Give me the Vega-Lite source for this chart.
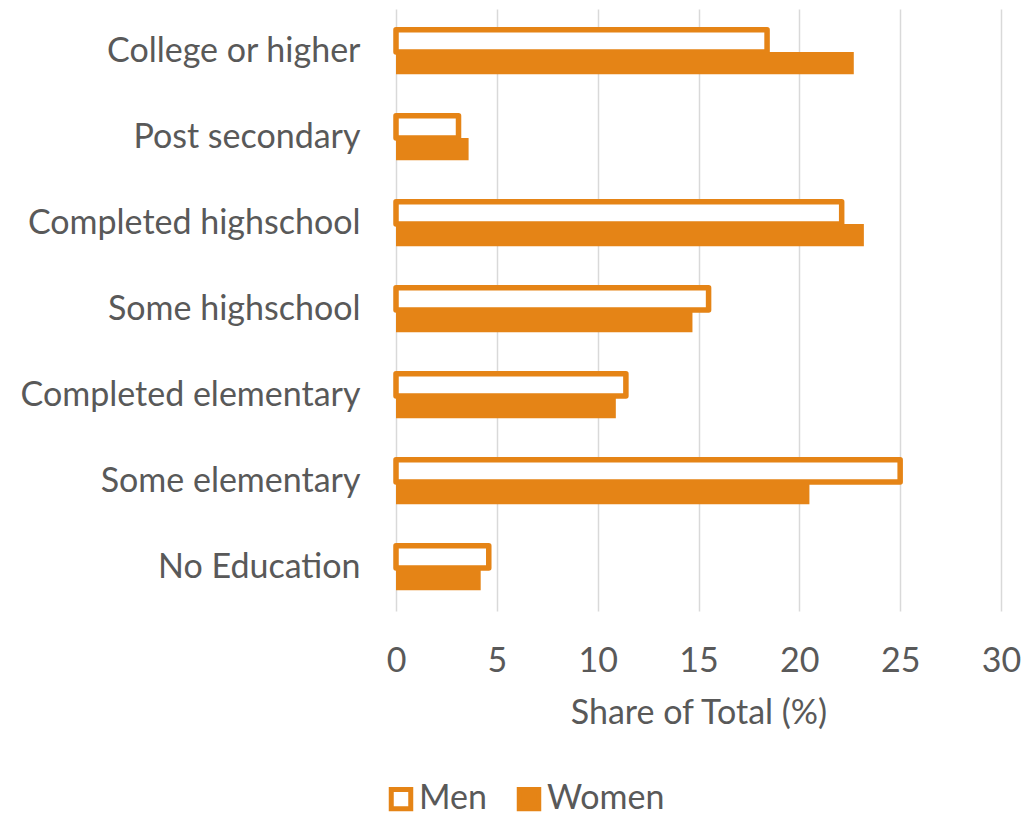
{
  "$schema": "https://vega.github.io/schema/vega-lite/v6.json",
  "width": 605,
  "height": 602,
  "autosize": {"type": "none"},
  "padding": {"left": 396, "top": 9, "right": 23, "bottom": 202},
  "background": "white",
  "config": {"view": {"stroke": null}, "font": "Lato"},
  "data": {
    "values": [
      {"level": "College or higher", "sex": "Men", "share": 18.4},
      {"level": "College or higher", "sex": "Women", "share": 22.7},
      {"level": "Post secondary", "sex": "Men", "share": 3.1},
      {"level": "Post secondary", "sex": "Women", "share": 3.6},
      {"level": "Completed highschool", "sex": "Men", "share": 22.1},
      {"level": "Completed highschool", "sex": "Women", "share": 23.2},
      {"level": "Some highschool", "sex": "Men", "share": 15.5},
      {"level": "Some highschool", "sex": "Women", "share": 14.7},
      {"level": "Completed elementary", "sex": "Men", "share": 11.4},
      {"level": "Completed elementary", "sex": "Women", "share": 10.9},
      {"level": "Some elementary", "sex": "Men", "share": 25.0},
      {"level": "Some elementary", "sex": "Women", "share": 20.5},
      {"level": "No Education", "sex": "Men", "share": 4.6},
      {"level": "No Education", "sex": "Women", "share": 4.2}
    ]
  },
  "mark": {"type": "bar", "strokeJoin": "round"},
  "encoding": {
    "y": {
      "field": "level",
      "type": "nominal",
      "sort": ["College or higher", "Post secondary", "Completed highschool", "Some highschool", "Completed elementary", "Some elementary", "No Education"],
      "scale": {"paddingInner": 0.48, "paddingOuter": 0.24},
      "axis": {"title": null, "domain": false, "ticks": false, "labelFontSize": 34, "labelColor": "#595959", "labelPadding": 36, "labelLimit": 0}
    },
    "yOffset": {"field": "sex", "type": "nominal", "sort": ["Men", "Women"]},
    "x": {
      "field": "share",
      "type": "quantitative",
      "scale": {"domain": [0, 30]},
      "axis": {
        "values": [0, 5, 10, 15, 20, 25, 30],
        "title": "Share of Total (%)",
        "grid": true,
        "gridColor": "#D9D9D9",
        "gridWidth": 1.5,
        "domain": false,
        "ticks": false,
        "labelFontSize": 34,
        "labelColor": "#595959",
        "labelPadding": 33,
        "labelFlush": false,
        "titleFontSize": 34,
        "titleColor": "#595959",
        "titleFontWeight": "normal",
        "titlePadding": 18
      }
    },
    "fill": {
      "field": "sex",
      "type": "nominal",
      "scale": {"domain": ["Men", "Women"], "range": ["#FFFFFF", "#E58416"]},
      "legend": {
        "title": null,
        "orient": "none",
        "direction": "horizontal",
        "legendX": -12,
        "legendY": 773,
        "symbolType": "square",
        "symbolSize": 380,
        "symbolStrokeWidth": 5,
        "labelFontSize": 34,
        "labelColor": "#595959",
        "labelOffset": 1,
        "labelLimit": 0,
        "columnPadding": 22
      }
    },
    "stroke": {
      "field": "sex",
      "type": "nominal",
      "scale": {"domain": ["Men", "Women"], "range": ["#E58416", "#E58416"]}
    },
    "strokeWidth": {
      "condition": {"test": "datum.sex === 'Men'", "value": 5.5},
      "value": 0
    }
  }
}
